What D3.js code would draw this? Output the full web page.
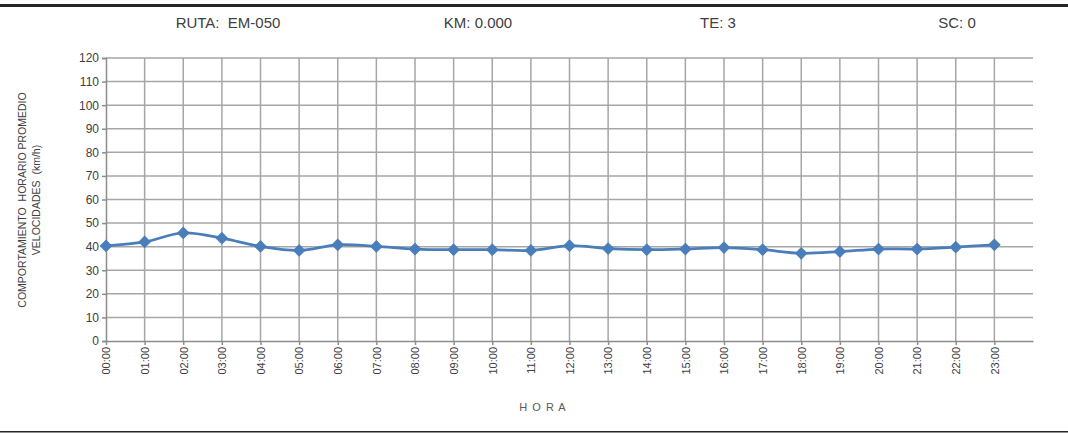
<!DOCTYPE html>
<html><head><meta charset="utf-8">
<script src="https://cdn.jsdelivr.net/npm/d3@7"></script>
<style>
html,body{margin:0;padding:0;background:#fff;}
svg{display:block;}
text{font-family:"Liberation Sans Narrow","Arial Narrow","Liberation Sans",sans-serif;}
</style></head>
<body>
<svg id="chart" width="1068" height="434"></svg>
<script>
const hours = ["00:00","01:00","02:00","03:00","04:00","05:00","06:00","07:00","08:00","09:00","10:00","11:00","12:00","13:00","14:00","15:00","16:00","17:00","18:00","19:00","20:00","21:00","22:00","23:00"];
const speeds = [40.3,42.0,45.8,43.6,40.1,38.4,40.8,40.1,39.0,38.7,38.7,38.4,40.4,39.2,38.7,39.0,39.6,38.7,37.2,37.9,39.0,39.0,39.8,40.8];
const yTicks = [0,10,20,30,40,50,60,70,80,90,100,110,120];
const headerLabels = ["RUTA:  EM-050","KM: 0.000","TE: 3","SC: 0"];
const yTitleLines = ["COMPORTAMIENTO  HORARIO PROMEDIO","VELOCIDADES  (km/h)"];
const xTitle = "H O R A";

const svg = d3.select("#chart");
const pL = 106, pR = 1033, pT = 58, pB = 341;

const x = d3.scaleLinear().domain([0, 24]).range([pL, pR]);
const y = d3.scaleLinear().domain([0, 120]).range([pB, pT]);

// frame lines
svg.append("rect").attr("x",0).attr("y",4).attr("width",1068).attr("height",3).attr("fill","#262626");
svg.append("rect").attr("x",0).attr("y",431).attr("width",1068).attr("height",1.5).attr("fill","#262626");

// header
const headerX = [228, 478, 718, 957];
svg.selectAll("text.hdr").data(headerLabels).enter().append("text")
  .attr("class","hdr").attr("x",(d,i)=>headerX[i]).attr("y",28)
  .attr("text-anchor","middle").attr("font-size",15).attr("fill","#404040")
  .attr("xml:space","preserve").style("white-space","pre").text(d=>d);

// grid horizontal
svg.append("g").selectAll("line").data(yTicks.filter(d=>d>0)).enter().append("line")
  .attr("x1",pL).attr("x2",pR).attr("y1",d=>y(d)).attr("y2",d=>y(d))
  .attr("stroke","#a6a6a6").attr("stroke-width",1.5);
// grid vertical
svg.append("g").selectAll("line").data(d3.range(1,24)).enter().append("line")
  .attr("x1",d=>x(d)).attr("x2",d=>x(d)).attr("y1",pT).attr("y2",pB)
  .attr("stroke","#a6a6a6").attr("stroke-width",1.5);

// y axis
const yAxis = d3.axisLeft(y).tickValues(yTicks).tickSize(4).tickPadding(3);
const gy = svg.append("g").attr("transform",`translate(${pL},0)`).call(yAxis);
gy.select(".domain").attr("stroke","#8c8c8c").attr("stroke-width",1.5);
gy.selectAll(".tick line").attr("stroke","#8c8c8c").attr("stroke-width",1.5);
gy.selectAll(".tick text").attr("font-size",12).attr("fill","#404040")
  .attr("font-family","'Liberation Sans Narrow','Arial Narrow','Liberation Sans',sans-serif");

// x axis
const xAxis = d3.axisBottom(x).tickValues(d3.range(0,24)).tickFormat(i=>hours[i]).tickSize(4).tickSizeOuter(0);
const gx = svg.append("g").attr("transform",`translate(0,${pB})`).call(xAxis);
gx.select(".domain").attr("stroke","#8c8c8c").attr("stroke-width",1.5);
gx.selectAll(".tick line").attr("stroke","#8c8c8c").attr("stroke-width",1.5);
gx.selectAll(".tick text").attr("font-size",11).attr("fill","#404040")
  .attr("font-family","'Liberation Sans Narrow','Arial Narrow','Liberation Sans',sans-serif")
  .attr("transform","rotate(-90)").attr("text-anchor","end")
  .attr("x",-6).attr("y",0).attr("dy","0.35em");

// y title
const yt = svg.append("text").attr("transform","translate(29,200) rotate(-90)")
  .attr("text-anchor","middle").attr("font-size",10.5).attr("fill","#404040");
yTitleLines.forEach((l,i)=>{
  yt.append("tspan").attr("x",0).attr("dy", i===0 ? "-0.25em" : "1.3em")
    .attr("xml:space","preserve").style("white-space","pre").text(l);
});

// x title
svg.append("text").attr("x",543).attr("y",411).attr("text-anchor","middle")
  .attr("font-size",11).attr("fill","#595959").attr("font-family","'Liberation Sans',sans-serif")
  .attr("letter-spacing","1").text(xTitle);

// line
const line = d3.line().x((d,i)=>x(i)).y(d=>y(d)).curve(d3.curveCatmullRom.alpha(0.5));
svg.append("path").datum(speeds).attr("d",line).attr("fill","none")
  .attr("stroke","#4a7ebb").attr("stroke-width",2.75);

// markers (square rotated 45° -> diamond)
const sym = d3.symbol().type(d3.symbolSquare).size(64);
svg.append("g").selectAll("path").data(speeds).enter().append("path")
  .attr("d",sym).attr("transform",(d,i)=>`translate(${x(i)},${y(d)}) rotate(45)`)
  .attr("fill","#4a7ebb").attr("stroke","#4a7ebb").attr("stroke-width",1);
</script>
</body></html>
